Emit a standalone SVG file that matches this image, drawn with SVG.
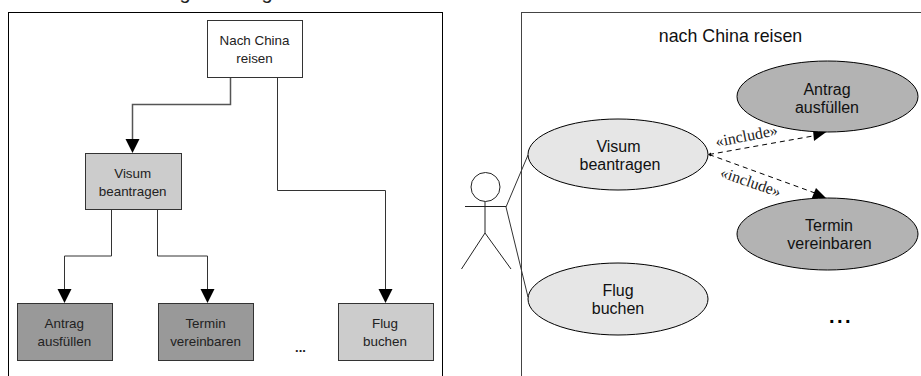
<svg xmlns="http://www.w3.org/2000/svg" width="921" height="376" viewBox="0 0 921 376">
<style>
text{font-family:"Liberation Sans",Arial,sans-serif;fill:#222;text-anchor:middle}
.s{font-size:13.400px}
.u{font-size:16px;fill:#111}
.i{font-family:"Liberation Serif","Times New Roman",serif;font-size:16px}
.frame{fill:#fff;stroke:#000;stroke-width:1}
.b{stroke:#333;stroke-width:1}
.e{stroke:#000;stroke-width:1}
.c{fill:none;stroke:#333;stroke-width:1}
.d{fill:none;stroke:#000;stroke-width:1;stroke-dasharray:5 4}
.h{fill:#000;stroke:none}
</style>
<rect width="921" height="376" fill="#fff"/>
<text x="185" y="-1" font-size="20">g</text>
<text x="267" y="-1" font-size="20">g</text>
<rect id="frame-left" class="frame" x="8.500" y="12.500" width="434" height="370"/>
<rect id="frame-right" class="frame" x="521.500" y="12.500" width="410" height="370" style="stroke:#444"/>
<g id="connectors">
<path class="c" d="M230.500 77V104.500H132.500V140" style="stroke:#555;stroke-width:1.500"/>
<path class="h" d="M125.500 139H139.500L132.500 153Z"/>
<path class="c" d="M277.500 77V190.500H385.500V290"/>
<path class="h" d="M378.500 289H392.500L385.500 303Z"/>
<path class="c" d="M111.500 209V256H64.500V290"/>
<path class="h" d="M57.500 289H71.500L64.500 303Z"/>
<path class="c" d="M157.500 209V256H207.500V290"/>
<path class="h" d="M200.500 289H214.500L207.500 303Z"/>
<path class="c" d="M506 207L528 155"/>
<path class="c" d="M506 207L528 297"/>
<path class="d" d="M709 154.500L813 136"/>
<path class="h" d="M813 130L829 130L814 141Z"/>
<path class="d" d="M709 154.500L815 193"/>
<path class="h" d="M816 188L828 200L811 200Z"/>
<path class="h" d="M708 154.500L711 152.500L711 156.500Z"/>
</g>
<g id="n-china"><rect class="b" x="207.500" y="20.500" width="95" height="57" fill="#fff"/><text class="s" x="254.500" y="45">Nach China</text><text class="s" x="254.500" y="63">reisen</text></g>
<g id="n-visum"><rect class="b" x="85.500" y="153.500" width="96" height="56" fill="#ccc"/><text class="s" x="132.700" y="178">Visum</text><text class="s" x="132.700" y="196">beantragen</text></g>
<g id="n-antrag"><rect class="b" x="17.500" y="303.500" width="95" height="57" fill="#999"/><text class="s" x="64.300" y="328">Antrag</text><text class="s" x="64.300" y="346">ausfüllen</text></g>
<g id="n-termin"><rect class="b" x="158.500" y="303.500" width="95" height="57" fill="#999"/><text class="s" x="205.500" y="328">Termin</text><text class="s" x="205.500" y="346">vereinbaren</text></g>
<g id="n-flug"><rect class="b" x="338.500" y="303.500" width="95" height="57" fill="#ccc"/><text class="s" x="385" y="328">Flug</text><text class="s" x="385" y="346">buchen</text></g>
<text x="300.500" y="352" font-size="13" font-weight="bold">...</text>
<text x="730.500" y="42" font-size="17.800" style="fill:#111">nach China reisen</text>
<g id="u-visum"><ellipse class="e" cx="618" cy="154.500" rx="90" ry="35.500" fill="#e6e6e6"/><text class="u" x="618.500" y="152">Visum</text><text class="u" x="620" y="170">beantragen</text></g>
<g id="u-antrag"><ellipse class="e" cx="827.500" cy="96.500" rx="90.500" ry="35.500" fill="#b3b3b3"/><text class="u" x="827" y="94.500">Antrag</text><text class="u" x="827" y="112.500">ausfüllen</text></g>
<g id="u-termin"><ellipse class="e" cx="827.500" cy="234" rx="90.500" ry="36" fill="#b3b3b3"/><text class="u" x="829" y="231">Termin</text><text class="u" x="829.500" y="249">vereinbaren</text></g>
<g id="u-flug"><ellipse class="e" cx="618" cy="299" rx="90" ry="36" fill="#e6e6e6"/><text class="u" x="618" y="296">Flug</text><text class="u" x="618" y="314">buchen</text></g>
<g id="actor" fill="none" stroke="#222"><circle cx="485.500" cy="187" r="14.500" fill="#fff"/><path d="M485 201.500V233M465 206.500H506M485 233L461.500 269M485 233L511 269"/></g>
<text x="841" y="323" font-size="20" font-weight="bold" letter-spacing="2.500" style="fill:#000">...</text>
<text class="i" transform="translate(747.500 141) rotate(-11)">«include»</text>
<text class="i" transform="translate(749 187) rotate(19)">«include»</text>
</svg>
